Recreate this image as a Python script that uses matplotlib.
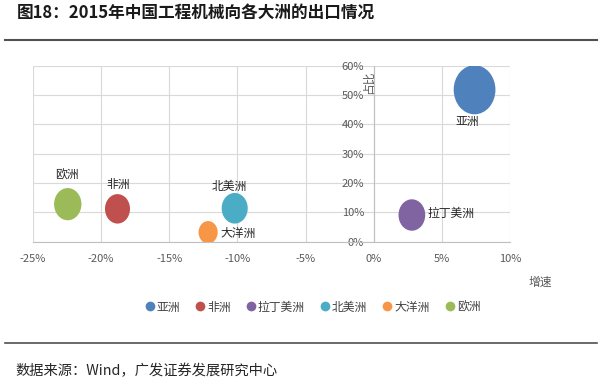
import matplotlib
matplotlib.use("Agg")
import matplotlib.pyplot as plt
from matplotlib.path import Path
from matplotlib.lines import Line2D
from matplotlib.ticker import MultipleLocator, FuncFormatter
import numpy as np

plt.rcParams['font.family'] = ['Noto Sans CJK SC', 'DejaVu Sans']

# ---- data ----
regions = ['亚洲', '非洲', '拉丁美洲', '北美洲', '大洋洲', '欧洲']
growth = [7.4, -18.8, 2.8, -10.2, -12.15, -22.45]      # 增速 (%)
share = [51.8, 11.2, 9.1, 11.4, 3.2, 12.8]             # 占比 (%)
bubble_size = [100, 36, 41, 39, 21, 43]                # relative bubble size
colors = ['#4F81BD', '#C0504D', '#8064A2', '#4BACC6', '#F79646', '#9BBB59']

title = '图18：2015年中国工程机械向各大洲的出口情况'
source = '数据来源：Wind，广发证券发展研究中心'

fig = plt.figure(figsize=(6, 3.88), dpi=100)
ax = fig.add_axes([33/600, 1-241.7/388, (510-33)/600, (241.7-65.7)/388])

# elliptical bubble marker (reference is slightly squeezed horizontally)
circ = Path.unit_circle()
ell = Path(circ.vertices * np.array([0.85, 1.0]), circ.codes)

for i, name in enumerate(regions):
    ax.scatter(growth[i], share[i], s=bubble_size[i] * 12.5, marker=ell,
               color=colors[i], edgecolors='none', zorder=3)

# label offsets (pixels): (dx, dy, ha)
offsets = {
    '亚洲': (-7, -32, 'center'),
    '非洲': (1, 24, 'center'),
    '拉丁美洲': (16, 2, 'left'),
    '北美洲': (-5, 22, 'center'),
    '大洋洲': (12, -1, 'left'),
    '欧洲': (-1, 29, 'center'),
}
for i, name in enumerate(regions):
    dx, dy, ha = offsets[name]
    ax.annotate(name, (growth[i], share[i]), xytext=(dx, dy),
                textcoords='offset pixels', ha=ha, va='center',
                fontsize=8.5, color='#262626', zorder=4)

ax.set_xlim(-25, 10)
ax.set_ylim(0, 60)
ax.xaxis.set_major_locator(MultipleLocator(5))
ax.yaxis.set_major_locator(MultipleLocator(10))
fmt = FuncFormatter(lambda v, p: f'{v:.0f}%')
ax.xaxis.set_major_formatter(fmt)
ax.yaxis.set_major_formatter(fmt)

ax.grid(True, color='#D9D9D9', linewidth=0.8, zorder=0)
ax.set_axisbelow(True)
for s in ['top', 'right']:
    ax.spines[s].set_visible(False)
ax.spines['left'].set_position(('data', 0))
ax.spines['left'].set_color('#BFBFBF')
ax.spines['bottom'].set_color('#BFBFBF')
ax.spines['left'].set_linewidth(0.8)
ax.spines['bottom'].set_linewidth(0.8)
ax.tick_params(axis='both', length=0, labelsize=8, labelcolor='#595959')
ax.tick_params(axis='x', pad=9)
ax.tick_params(axis='y', pad=7)

# axis titles
fig.text(368/600, 1-82/388, '占比', rotation=90, ha='center', va='center',
         fontsize=8.5, color='#595959')
fig.text(540/600, 1-282/388, '增速', ha='center', va='center',
         fontsize=8.5, color='#595959')

# legend
handles = [Line2D([0], [0], marker='o', linestyle='none', markersize=7,
                  markerfacecolor=c, markeredgecolor='none') for c in colors]
fig.legend(handles, regions, loc='center', bbox_to_anchor=(312/600, 1-307/388),
           ncol=6, frameon=False, fontsize=8.5, handletextpad=0.1,
           columnspacing=1.2, handlelength=1.0, labelcolor='#404040')

# title, rules, source
fig.text(17/600, 1-13/388, title, ha='left', va='center', fontsize=12,
         fontweight='bold', color='#1a1a1a')
fig.add_artist(Line2D([5/600, 597/600], [1-40/388, 1-40/388], color='#505050',
                      linewidth=1.5, transform=fig.transFigure))
fig.add_artist(Line2D([5/600, 597/600], [1-343/388, 1-343/388], color='#505050',
                      linewidth=1.2, transform=fig.transFigure))
fig.text(15/600, 1-371/388, source, ha='left', va='center', fontsize=10.3,
         color='#262626')

fig.savefig('out.png', dpi=100)
